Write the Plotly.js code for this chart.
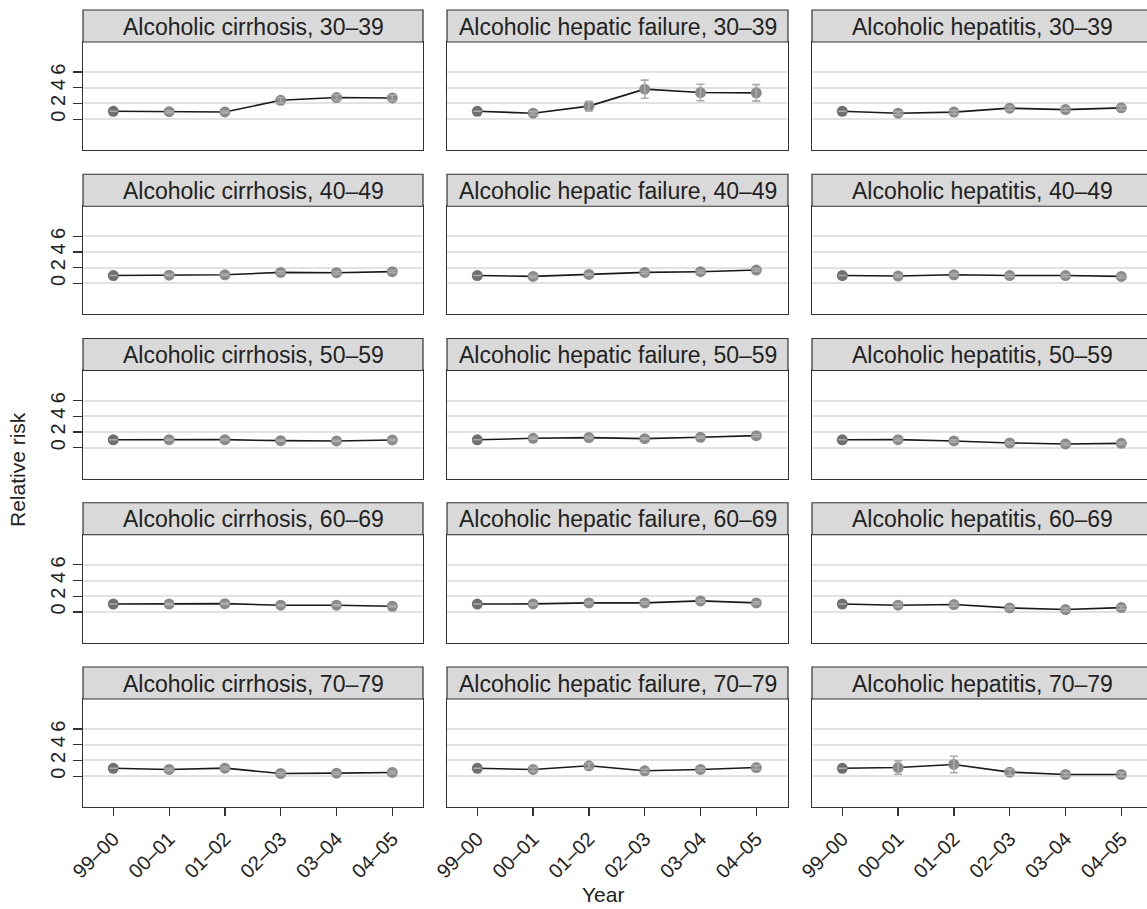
<!DOCTYPE html>
<html>
<head>
<meta charset="utf-8">
<script src="https://cdn.plot.ly/plotly-3.0.1.min.js"></script>
<style>html,body{margin:0;padding:0;background:#fff;}#chart{width:1147px;height:909px;}</style>
</head>
<body>
<div id="chart"></div>
<script>
// ---- data ----
const years = ['99–00', '00–01', '01–02', '02–03', '03–04', '04–05'];
const causes = ['Alcoholic cirrhosis', 'Alcoholic hepatic failure', 'Alcoholic hepatitis'];
const ageGroups = ['30–39', '40–49', '50–59', '60–69', '70–79'];
const yTicks = [0, 2, 4, 6];

// relative risk, one row per age group
const cirrhosisRR = [
  [1.0, 0.95, 0.92, 2.40, 2.75, 2.70],
  [1.0, 1.05, 1.10, 1.40, 1.36, 1.50],
  [1.0, 1.02, 1.02, 0.89, 0.85, 0.98],
  [1.0, 1.00, 1.05, 0.85, 0.85, 0.72],
  [1.0, 0.85, 1.02, 0.34, 0.38, 0.47]
];
const cirrhosisErr = [
  [0, 0.12, 0.12, 0.35, 0.35, 0.35],
  [0, 0.10, 0.10, 0.15, 0.15, 0.15],
  [0, 0.08, 0.08, 0.08, 0.08, 0.08],
  [0, 0.10, 0.10, 0.10, 0.10, 0.10],
  [0, 0.15, 0.15, 0.15, 0.15, 0.15]
];
const hepaticFailureRR = [
  [1.0, 0.76, 1.66, 3.82, 3.39, 3.35],
  [1.0, 0.89, 1.15, 1.40, 1.49, 1.70],
  [1.0, 1.19, 1.28, 1.15, 1.32, 1.53],
  [1.0, 1.02, 1.15, 1.15, 1.40, 1.15],
  [1.0, 0.85, 1.32, 0.68, 0.85, 1.10]
];
const hepaticFailureErr = [
  [0, 0.20, 0.60, 1.15, 1.05, 1.05],
  [0, 0.12, 0.12, 0.15, 0.15, 0.15],
  [0, 0.12, 0.12, 0.12, 0.12, 0.15],
  [0, 0.12, 0.15, 0.15, 0.15, 0.15],
  [0, 0.25, 0.35, 0.20, 0.20, 0.25]
];
const hepatitisRR = [
  [1.0, 0.76, 0.90, 1.40, 1.22, 1.44],
  [1.0, 0.94, 1.10, 1.00, 1.00, 0.89],
  [1.0, 1.02, 0.85, 0.60, 0.47, 0.55],
  [1.0, 0.85, 0.94, 0.51, 0.30, 0.55],
  [1.0, 1.10, 1.49, 0.51, 0.21, 0.21]
];
const hepatitisErr = [
  [0, 0.22, 0.22, 0.25, 0.22, 0.25],
  [0, 0.15, 0.15, 0.15, 0.15, 0.15],
  [0, 0.15, 0.15, 0.15, 0.15, 0.15],
  [0, 0.20, 0.20, 0.20, 0.20, 0.20],
  [0, 0.85, 1.05, 0.40, 0.22, 0.22]
];

const seriesRR = [cirrhosisRR, hepaticFailureRR, hepatitisRR];
const seriesErr = [cirrhosisErr, hepaticFailureErr, hepatitisErr];

// ---- layout geometry (pixels) ----
const W = 1147, H = 909;
const colX = [[83, 423], [447, 788], [812, 1152]];
const rowTop0 = 10, rowStep = 164.25, stripH = 32, plotH = 108;
const FONT = 'Liberation Sans, Arial, Helvetica, sans-serif';

const traces = [];
const layout = {
  width: W, height: H,
  margin: {l: 0, r: 0, t: 0, b: 0},
  paper_bgcolor: '#fff', plot_bgcolor: '#fff',
  showlegend: false,
  font: {family: FONT, color: '#222', size: 22},
  shapes: [], annotations: []
};

for (let r = 0; r < ageGroups.length; r++) {
  for (let c = 0; c < causes.length; c++) {
    const k = r * 3 + c + 1;
    const xa = k === 1 ? 'x' : 'x' + k;
    const ya = k === 1 ? 'y' : 'y' + k;
    const top = rowTop0 + r * rowStep;
    const stripBottom = top + stripH;
    const plotBottom = stripBottom + plotH;
    const xl = colX[c][0], xr = Math.min(colX[c][1], W);
    const pxPerCat = 55.8;
    const x0v = -(30.3 / pxPerCat);
    const x1v = x0v + (xr - xl) / pxPerCat;

    const vals = seriesRR[c][r];
    const errs = seriesErr[c][r];
    const mColors = vals.map((v, i) => i === 0 ? '#6f6f6f' : '#8a8a8a');

    traces.push({
      type: 'scatter', mode: 'lines+markers', x: years, y: vals,
      xaxis: xa, yaxis: ya,
      line: {color: '#1a1a1a', width: 1.6},
      marker: {size: 11, color: mColors, line: {width: 0}},
      hoverinfo: 'x+y'
    });
    traces.push({
      type: 'scatter', mode: 'markers', x: years, y: vals,
      xaxis: xa, yaxis: ya,
      marker: {size: 1, color: 'rgba(0,0,0,0)'},
      error_y: {type: 'data', array: errs, visible: true, color: '#ababab', thickness: 1.6, width: 4},
      hoverinfo: 'skip'
    });

    const isBottom = r === ageGroups.length - 1;
    const isLeft = c === 0;
    layout['xaxis' + (k === 1 ? '' : k)] = {
      domain: [xl / W, xr / W],
      anchor: ya,
      type: 'category',
      range: [x0v, x1v],
      showgrid: false, zeroline: false,
      showline: true, linecolor: '#333', linewidth: 1.2, mirror: true,
      ticks: isBottom ? 'outside' : '', ticklen: 8, tickcolor: '#333', tickwidth: 1.2,
      showticklabels: isBottom, tickangle: -45, ticklabelstandoff: 3,
      tickfont: {family: FONT, size: 20, color: '#222'},
      fixedrange: true
    };
    layout['yaxis' + (k === 1 ? '' : k)] = {
      domain: [1 - plotBottom / H, 1 - stripBottom / H],
      anchor: xa,
      range: [-3.93, 9.83],
      tickmode: 'array', tickvals: yTicks, ticktext: yTicks.map(String),
      showgrid: true, gridcolor: '#e2e2e2', gridwidth: 2,
      zeroline: false,
      showline: true, linecolor: '#333', linewidth: 1.2, mirror: c < 2,
      ticks: isLeft ? 'outside' : '', ticklen: 9, tickcolor: '#333', tickwidth: 1.2,
      showticklabels: isLeft, tickangle: -90,
      tickfont: {family: FONT, size: 20, color: '#222'},
      fixedrange: true
    };

    // strip
    layout.shapes.push({
      type: 'rect', xref: 'paper', yref: 'paper', layer: 'above',
      x0: xl / W, x1: colX[c][1] / W,
      y0: 1 - stripBottom / H, y1: 1 - top / H,
      fillcolor: '#d9d9d9', line: {color: '#333', width: 1.2}
    });
    layout.annotations.push({
      xref: 'paper', yref: 'paper',
      x: ((xl + colX[c][1]) / 2) / W, y: 1 - (top + stripH / 2 + 0.5) / H,
      xanchor: 'center', yanchor: 'middle', showarrow: false,
      text: causes[c] + ', ' + ageGroups[r],
      font: {family: FONT, size: 23, color: '#222'}
    });
  }
}

layout.annotations.push({
  xref: 'paper', yref: 'paper', x: 18 / W, y: 1 - 470 / H,
  xanchor: 'center', yanchor: 'middle', showarrow: false, textangle: -90,
  text: 'Relative risk', font: {family: FONT, size: 21, color: '#222'}
});
layout.annotations.push({
  xref: 'paper', yref: 'paper', x: 603 / W, y: 1 - 894 / H,
  xanchor: 'center', yanchor: 'middle', showarrow: false,
  text: 'Year', font: {family: FONT, size: 21, color: '#222'}
});

Plotly.newPlot('chart', traces, layout, {displayModeBar: false, staticPlot: true});
</script>
</body>
</html>
